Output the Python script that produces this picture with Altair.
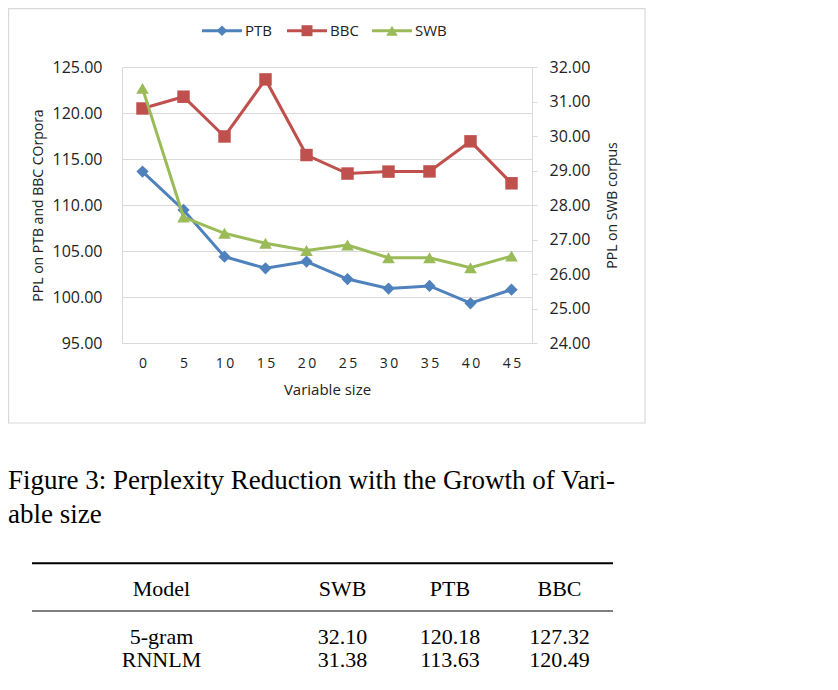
import altair as alt
import pandas as pd

# ---------------- data ----------------
sizes = [0, 5, 10, 15, 20, 25, 30, 35, 40, 45]
ptb = [113.63, 109.46, 104.38, 103.12, 103.85, 101.95, 100.92, 101.20, 99.32, 100.80]
bbc = [120.49, 121.77, 117.45, 123.65, 115.43, 113.42, 113.63, 113.65, 116.92, 112.36]
swb = [31.38, 27.65, 27.18, 26.89, 26.68, 26.84, 26.47, 26.47, 26.18, 26.52]

series_names = ["PTB", "BBC", "SWB"]
series_colors = ["#4F81BD", "#C0504D", "#9BBB59"]
series_shapes = ["diamond", "square", "triangle-up"]
series_sizes = [150, 160, 175]

left_ticks = [95, 100, 105, 110, 115, 120, 125]
right_ticks = [24, 25, 26, 27, 28, 29, 30, 31, 32]

x_title = "Variable size"
left_title = "PPL on PTB and BBC COrpora"
right_title = "PPL on SWB corpus"

caption_lines = ["Figure 3: Perplexity Reduction with the Growth of Vari-", "able size"]
table_header = ["Model", "SWB", "PTB", "BBC"]
table_rows = [
    ["5-gram", "32.10", "120.18", "127.32"],
    ["RNNLM", "31.38", "113.63", "120.49"],
]

# ---------------- layout (pixels, relative to plot origin) ----------------
W, H = 410, 276
PAD_L, PAD_T = 114, 59
GRID = "#D9D9D9"
TXT = "#222222"
SANS = "Open Sans"
SERIF = "Liberation Serif"

df_left = pd.DataFrame({
    "size": sizes * 2,
    "value": ptb + bbc,
    "series": ["PTB"] * len(sizes) + ["BBC"] * len(sizes),
})
df_right = pd.DataFrame({"size": sizes, "value": swb, "series": ["SWB"] * len(sizes)})

color = alt.Color("series:N", scale=alt.Scale(domain=series_names, range=series_colors), legend=None)
shape = alt.Shape("series:N", scale=alt.Scale(domain=series_names, range=series_shapes), legend=None)
size_enc = alt.Size("series:N", scale=alt.Scale(domain=series_names, range=series_sizes), legend=None)

x_enc = alt.X(
    "size:O",
    scale=alt.Scale(type="point", padding=0.5),
    sort=sizes,
    axis=alt.Axis(
        title=x_title, labelAngle=0, ticks=False, tickSize=0, domainColor=GRID,
        labelPadding=13, titlePadding=12, labelFontSize=14, titleFontSize=15,
        labelExpr="join(split(datum.label, ''), '\u2009')",
    ),
)

y_left = alt.Y(
    "value:Q",
    scale=alt.Scale(domain=[95, 125], zero=False, nice=False),
    axis=alt.Axis(
        orient="left", values=left_ticks, format=".2f", grid=True, gridColor=GRID,
        domainColor=GRID, ticks=False, tickSize=0, labelPadding=20, labelFontSize=16,
        title=left_title, titleFontSize=14, titlePadding=7,
    ),
)
y_right = alt.Y(
    "value:Q",
    scale=alt.Scale(domain=[24, 32], zero=False, nice=False),
    axis=alt.Axis(
        orient="right", values=right_ticks, format=".2f", grid=False,
        domainColor=GRID, ticks=True, tickSize=5, tickColor=GRID, labelPadding=12,
        labelFontSize=16, title=right_title, titleFontSize=14, titlePadding=16,
        titleAngle=270, titleBaseline="top",
    ),
)

one = alt.InlineData(values=[{"k": 1}])
layers = []

# outer frame
layers.append(
    alt.Chart(one).mark_rect(filled=False, stroke=GRID, strokeWidth=1.2).encode(
        x=alt.value(-113.4), x2=alt.value(523), y=alt.value(-58.4), y2=alt.value(356)
    )
)

left_lines = alt.Chart(df_left).mark_line(strokeWidth=3).encode(x=x_enc, y=y_left, color=color)
left_points = alt.Chart(df_left).mark_point(filled=True, opacity=1).encode(
    x=x_enc, y=y_left, color=color, shape=shape, size=size_enc
)
right_lines = alt.Chart(df_right).mark_line(strokeWidth=3).encode(x=x_enc, y=y_right, color=color)
right_points = alt.Chart(df_right).mark_point(filled=True, opacity=1).encode(
    x=x_enc, y=y_right, color=color, shape=shape, size=size_enc
)
left_layer = alt.layer(left_lines, left_points)
right_layer = alt.layer(right_lines, right_points)

# legend (manual, Excel style)
LEG_Y = -36.3
for i, name in enumerate(series_names):
    x0 = 80 + 85 * i
    layers.append(alt.Chart(one).mark_rule(color=series_colors[i], strokeWidth=3).encode(
        x=alt.value(x0), x2=alt.value(x0 + 40), y=alt.value(LEG_Y)))
    layers.append(alt.Chart(one).mark_point(
        filled=True, opacity=1, color=series_colors[i], shape=series_shapes[i],
        size=series_sizes[i] * 0.75).encode(x=alt.value(x0 + 20), y=alt.value(LEG_Y)))
    layers.append(alt.Chart(one).mark_text(
        align="left", baseline="middle", font=SANS, fontSize=15, color=TXT).encode(
        x=alt.value(x0 + 43), y=alt.value(LEG_Y), text=alt.value(name)))

# caption
cap_y = [422, 456]
for line, yy in zip(caption_lines, cap_y):
    layers.append(alt.Chart(one).mark_text(
        align="left", baseline="alphabetic", font=SERIF, fontSize=27, color="black").encode(
        x=alt.value(-114), y=alt.value(yy), text=alt.value(line)))

# table rules
layers.append(alt.Chart(one).mark_rule(color="black", strokeWidth=2).encode(
    x=alt.value(-90), x2=alt.value(491), y=alt.value(496.3)))
layers.append(alt.Chart(one).mark_rule(color="black", strokeWidth=1.2).encode(
    x=alt.value(-90), x2=alt.value(491), y=alt.value(544)))

# table text
col_x = [39.5, 220.5, 328, 437.5]
row_y = [529, 577, 600]
for r, row in enumerate([table_header] + table_rows):
    for c, cell in enumerate(row):
        layers.append(alt.Chart(one).mark_text(
            align="center", baseline="alphabetic", font=SERIF, fontSize=22, color="black").encode(
            x=alt.value(col_x[c]), y=alt.value(row_y[r]), text=alt.value(cell)))

chart = alt.layer(*layers[:1], left_layer, right_layer, *layers[1:]).resolve_scale(
    y="independent"
).properties(
    width=W, height=H,
    padding={"left": PAD_L, "top": PAD_T, "right": 822 - PAD_L - W, "bottom": 674 - PAD_T - H},
    autosize=alt.AutoSizeParams(type="none"),
).configure_view(stroke=None).configure_axis(
    labelFont=SANS, titleFont=SANS, labelColor=TXT, titleColor=TXT, titleFontWeight="normal"
)

chart.save("out.html", embed_options={"renderer": "svg", "actions": False})
